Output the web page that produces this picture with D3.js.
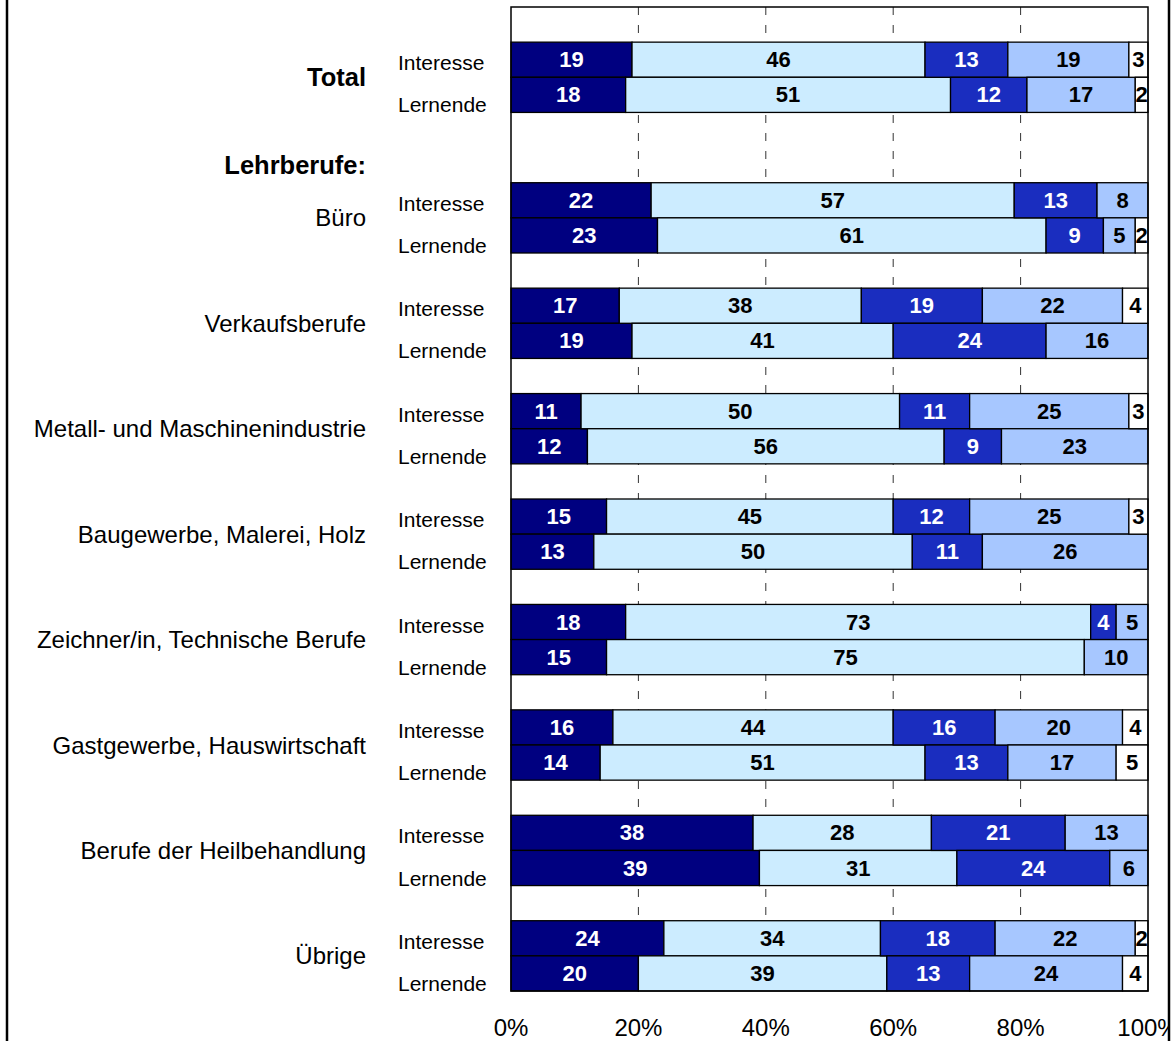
<!DOCTYPE html>
<html>
<head>
<meta charset="utf-8">
<script src="https://cdn.jsdelivr.net/npm/d3@7"></script>
<style>
html,body{margin:0;padding:0;background:#fff;}
svg{display:block;font-family:"Liberation Sans",Arial,sans-serif;}
</style>
</head>
<body>
<svg id="chart" width="1175" height="1041"></svg>
<script>
const categories = ["Total","Büro","Verkaufsberufe","Metall- und Maschinenindustrie","Baugewerbe, Malerei, Holz","Zeichner/in, Technische Berufe","Gastgewerbe, Hauswirtschaft","Berufe der Heilbehandlung","Übrige"];
const rowTypes = ["Interesse","Lernende"];
const seg1Interesse = [19,22,17,11,15,18,16,38,24];
const seg1Lernende  = [18,23,19,12,13,15,14,39,20];
const seg2Interesse = [46,57,38,50,45,73,44,28,34];
const seg2Lernende  = [51,61,41,56,50,75,51,31,39];
const seg3Interesse = [13,13,19,11,12,4,16,21,18];
const seg3Lernende  = [12,9,24,9,11,0,13,24,13];
const seg4Interesse = [19,8,22,25,25,5,20,13,22];
const seg4Lernende  = [17,5,16,23,26,10,17,6,24];
const seg5Interesse = [3,0,4,3,3,0,4,0,2];
const seg5Lernende  = [2,2,0,0,0,0,5,0,4];
const tickValues = [0,20,40,60,80,100];
const tickLabels = ["0%","20%","40%","60%","80%","100%"];
const sectionLabel = "Lehrberufe:";

(function(){
const segKeys = ["s1","s2","s3","s4","s5"];
const segColors = ["#000080","#CCECFF","#1A2DBF","#A7C7FF","#FFFFFF"];
const segText = ["#ffffff","#000000","#ffffff","#000000","#000000"];

const segI = [seg1Interesse,seg2Interesse,seg3Interesse,seg4Interesse,seg5Interesse];
const segL = [seg1Lernende,seg2Lernende,seg3Lernende,seg4Lernende,seg5Lernende];
const rows = [];
categories.forEach((c,i)=>{
  const rI = {key:c+"|Interesse",cat:c,type:rowTypes[0]};
  const rL = {key:c+"|Lernende",cat:c,type:rowTypes[1]};
  segKeys.forEach((k,j)=>{ rI[k]=segI[j][i]; rL[k]=segL[j][i]; });
  rows.push(rI, rL);
});

const slots = ["pad0"];
categories.forEach((c,i)=>{
  slots.push(c+"|Interesse", c+"|Lernende");
  if(i===0){ slots.push("gap0","section"); }
  else if(i<categories.length-1){ slots.push("gap"+i); }
});

const svg = d3.select("#chart");
const pLeft = 511, pRight = 1148, pTop = 7, pBottom = 991;
const x = d3.scaleLinear().domain([0,100]).range([pLeft,pRight]);
const y = d3.scaleBand().domain(slots).range([pTop,pBottom]).padding(0);

svg.append("rect").attr("x",pLeft).attr("y",pTop).attr("width",pRight-pLeft).attr("height",pBottom-pTop)
  .attr("fill","#fff");

svg.append("g").selectAll("line").data(tickValues.filter(v=>v>0&&v<100)).join("line")
  .attr("x1",d=>x(d)).attr("x2",d=>x(d)).attr("y1",pTop).attr("y2",pBottom)
  .attr("stroke","#333").attr("stroke-width",1).attr("stroke-dasharray","8,10");

const stack = d3.stack().keys(segKeys)(rows);
stack.forEach((layer,j)=>{
  const g = svg.append("g");
  const dat = layer.filter(d=>d.data[segKeys[j]]>0);
  g.selectAll("rect").data(dat).join("rect")
    .attr("x",d=>x(d[0])).attr("width",d=>x(d[1])-x(d[0]))
    .attr("y",d=>y(d.data.key)).attr("height",y.bandwidth())
    .attr("fill",segColors[j]).attr("stroke","#000").attr("stroke-width",1.3);
  g.selectAll("text").data(dat).join("text")
    .attr("x",d=>(x(d[0])+x(d[1]))/2).attr("y",d=>y(d.data.key)+y.bandwidth()/2)
    .attr("text-anchor","middle").attr("dominant-baseline","central")
    .attr("font-size",22).attr("font-weight","bold").attr("fill",segText[j])
    .text(d=>d.data[segKeys[j]]);
});

svg.append("rect").attr("x",pLeft).attr("y",pTop).attr("width",pRight-pLeft).attr("height",pBottom-pTop)
  .attr("fill","none").attr("stroke","#000").attr("stroke-width",1.5);

svg.append("g").selectAll("text").data(categories).join("text")
  .attr("x",366)
  .attr("y",c=>(y(c+"|Interesse")+y(c+"|Lernende")+y.bandwidth())/2)
  .attr("text-anchor","end").attr("dominant-baseline","central")
  .attr("font-size",(c,i)=>i===0?25.5:24)
  .attr("font-weight",(c,i)=>i===0?"bold":"normal")
  .text(c=>c);
svg.append("text").attr("x",366).attr("y",y("section")+y.bandwidth()/2)
  .attr("text-anchor","end").attr("dominant-baseline","central")
  .attr("font-size",25.5).attr("font-weight","bold").text(sectionLabel);

svg.append("g").selectAll("text").data(rows).join("text")
  .attr("x",398)
  .attr("y",d=>y(d.key)+y.bandwidth()/2+(d.type==="Interesse"?3:10))
  .attr("dominant-baseline","central")
  .attr("font-size",21).text(d=>d.type);

svg.append("g").selectAll("text").data(tickValues).join("text")
  .attr("x",d=>x(d)).attr("y",1036)
  .attr("text-anchor","middle").attr("font-size",24)
  .text((d,i)=>tickLabels[i]);

// outer frame drawn last (it clips the right-most tick label like the reference)
svg.append("rect").attr("x",1169).attr("y",0).attr("width",6).attr("height",1041).attr("fill","#fff");
svg.append("rect").attr("x",7).attr("y",-10).attr("width",1162).attr("height",1070)
  .attr("fill","none").attr("stroke","#000").attr("stroke-width",2.5);
})();
</script>
</body>
</html>
